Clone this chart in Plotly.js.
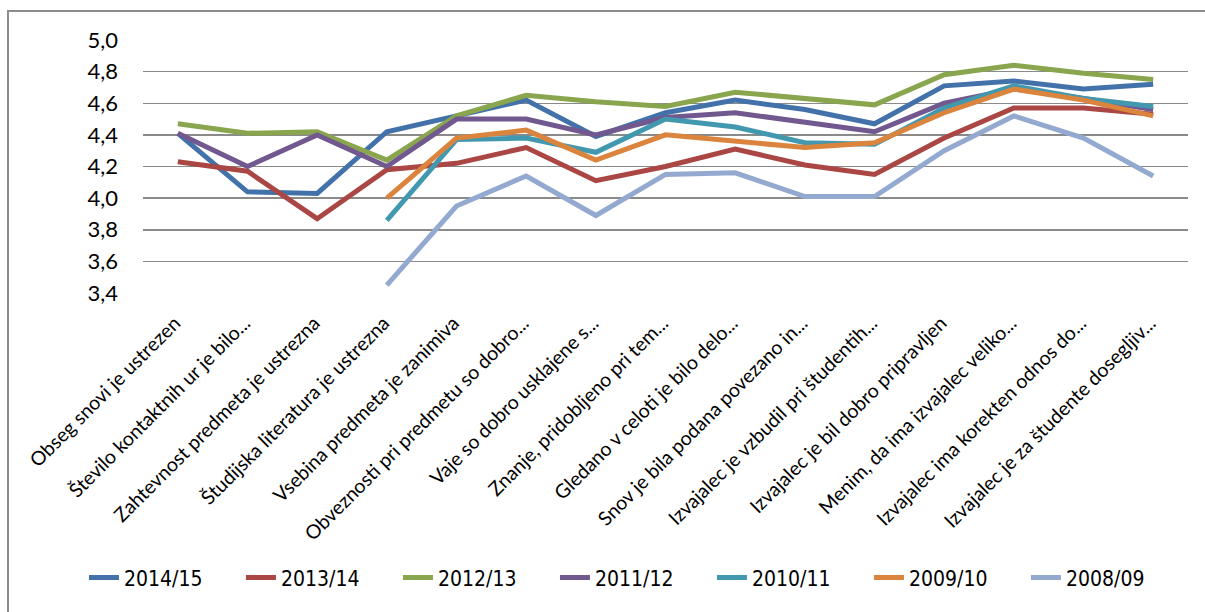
<!DOCTYPE html>
<html>
<head>
<meta charset="utf-8">
<script src="https://cdn.plot.ly/plotly-3.0.1.min.js"></script>
<style>
  html, body { margin:0; padding:0; background:#fff; }
  #frame { position:absolute; left:7px; top:10px; width:1300px; height:700px; border-left:2px solid #8c8c8c; border-top:2px solid #8c8c8c; box-sizing:border-box; }
  #chart { position:absolute; left:0; top:0; width:1205px; height:612px; }
</style>
</head>
<body>
<div id="frame"></div>
<div id="chart"></div>
<script>
const categories = [
  "Obseg snovi je ustrezen",
  "Število kontaktnih ur je bilo...",
  "Zahtevnost predmeta je ustrezna",
  "Študijska literatura je ustrezna",
  "Vsebina predmeta je zanimiva",
  "Obveznosti pri predmetu so dobro...",
  "Vaje so dobro usklajene s...",
  "Znanje, pridobljeno pri tem...",
  "Gledano v celoti je bilo delo...",
  "Snov je bila podana povezano in...",
  "Izvajalec je vzbudil pri študentih...",
  "Izvajalec je bil dobro pripravljen",
  "Menim, da ima izvajalec veliko...",
  "Izvajalec ima korekten odnos do...",
  "Izvajalec je za študente dosegljiv..."
];
const seriesNames = ["2014/15","2013/14","2012/13","2011/12","2010/11","2009/10","2008/09"];
const s2014 = [4.41,4.04,4.03,4.42,4.52,4.62,4.39,4.54,4.62,4.56,4.47,4.71,4.74,4.69,4.72];
const s2013 = [4.23,4.17,3.87,4.18,4.22,4.32,4.11,4.20,4.31,4.21,4.15,4.38,4.57,4.57,4.53];
const s2012 = [4.47,4.41,4.42,4.24,4.52,4.65,4.61,4.58,4.67,4.63,4.59,4.78,4.84,4.79,4.75];
const s2011 = [4.41,4.20,4.40,4.20,4.50,4.50,4.40,4.51,4.54,4.48,4.42,4.60,4.69,4.63,4.56];
const s2010 = [null,null,null,3.86,4.37,4.38,4.29,4.50,4.45,4.35,4.34,4.57,4.71,4.63,4.58];
const s2009 = [null,null,null,4.00,4.38,4.43,4.24,4.40,4.36,4.32,4.35,4.54,4.69,4.62,4.52];
const s2008 = [null,null,null,3.45,3.95,4.14,3.89,4.15,4.16,4.01,4.01,4.30,4.52,4.38,4.14];
const yTicks = [3.4,3.6,3.8,4.0,4.2,4.4,4.6,4.8,5.0];

const allSeries = [s2014,s2013,s2012,s2011,s2010,s2009,s2008];
const colors = ["#4372AA","#AA4644","#89A54E","#71588F","#4198AF","#DB843D","#93A9CF"];

const traces = allSeries.map((ys,i)=>({
  type:'scatter', mode:'lines', name:seriesNames[i],
  x:categories, y:ys,
  line:{color:colors[i], width:5},
  connectgaps:false
}));

const layout = {
  width:1205, height:612,
  paper_bgcolor:'rgba(0,0,0,0)', plot_bgcolor:'rgba(0,0,0,0)',
  separators:', ',
  margin:{l:143, r:17, t:40, b:319, pad:0, autoexpand:false},
  font:{family:'Lato, "Open Sans", sans-serif', color:'#000'},
  showlegend:true,
  legend:{orientation:'h', x:-0.0565, xanchor:'left', y:-1.126, yanchor:'middle',
    font:{size:21, family:'"DejaVu Sans Condensed", "Liberation Sans Narrow", Roboto, sans-serif', color:'#000'},
    entrywidth:112, entrywidthmode:'pixels', itemwidth:30},
  xaxis:{type:'category', tickangle:-45, tickfont:{size:19.5}, showgrid:false,
    showline:false, zeroline:false, ticks:'', automargin:false, range:[-0.5,14.5],
    ticklabelstandoff:14, ticklabelshift:-3},
  yaxis:{range:[3.4,5.0], tickvals:yTicks, tickformat:'.1f', tickfont:{size:22},
    showgrid:true, gridcolor:'#8a8a8a', gridwidth:1.5, zeroline:false, showline:false,
    ticks:'', ticklen:0, automargin:false, ticklabelstandoff:24}
};

Plotly.newPlot('chart', traces, layout, {displayModeBar:false, staticPlot:true});
</script>
</body>
</html>
